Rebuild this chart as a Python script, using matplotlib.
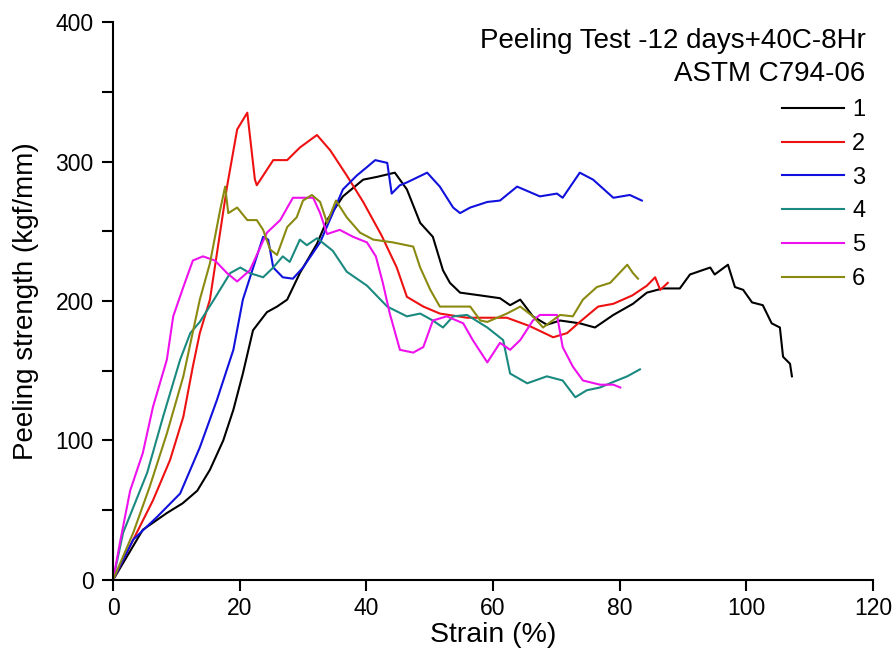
import matplotlib.pyplot as plt
from matplotlib.ticker import MultipleLocator

plt.rcParams['font.family'] = ['Liberation Sans', 'DejaVu Sans']

# strain (%) / peeling strength (kgf/mm) for each specimen
x1 = [0, 4.7, 8.5, 11, 13.3, 15.3, 17.4, 19, 20.5, 22.1, 24.3, 25.9, 27.5, 29.5, 32.2, 33.8,
      36.3, 39.5, 41.7, 44.5, 46.4, 48.5, 50.5, 52.1, 53.2, 54.8, 58, 61.1, 62.7, 64.3, 66.3,
      68.5, 70.6, 73.7, 76.1, 79, 82.1, 84.3, 86.8, 89.5, 91.1, 94.3, 95, 97.1, 98.2, 99.5,
      100.9, 102.6, 104, 105.3, 105.8, 106.9, 107.2]
y1 = [0, 36, 48, 55, 64, 79, 100, 122, 148, 179, 192, 196, 201, 220, 241, 258,
      275, 287, 289, 292, 280, 256, 246, 222, 213, 206, 204, 202, 197, 201, 189,
      183, 186, 184, 181, 190, 198, 206, 209, 209, 219, 224, 219, 226, 210, 208,
      199, 197, 184, 181, 160, 155, 146]

x2 = [0, 3.2, 6.3, 9, 11.1, 12.6, 13.7, 15.3, 18, 19.6, 21.2, 22.4, 22.7, 25.3, 27.5, 29.5,
      32.2, 34.3, 36.9, 39.5, 42.4, 44.8, 46.4, 49, 51.6, 55.9, 62.2, 65.8, 69.5, 71.7, 73.7,
      76.6, 79, 82, 84.3, 85.6, 86.4, 87.6]
y2 = [0, 29, 57, 86, 117, 153, 177, 201, 282, 323, 335, 287, 283, 301, 301, 310,
      319, 308, 290, 271, 247, 224, 203, 196, 191, 188, 188, 182, 174, 177, 185,
      196, 198, 204, 211, 217, 208, 213]

x3 = [0, 3.2, 6.9, 10.6, 13.7, 16.4, 19, 20.5, 23.7, 24.5, 25.3, 26.8, 28.4, 30, 32.7, 34.7,
      36.3, 38.5, 40.1, 41.4, 43.3, 44, 45.3, 46.4, 49.6, 51.6, 53.7, 54.8, 56.4, 59.1, 61.1,
      63.8, 67.4, 70.1, 71, 73.7, 75.8, 79, 81.6, 83.5]
y3 = [0, 29, 45, 62, 95, 129, 165, 201, 246, 244, 224, 217, 216, 224, 242, 263,
      280, 290, 296, 301, 299, 277, 283, 285, 292, 282, 267, 263, 267, 271, 272,
      282, 275, 277, 274, 292, 287, 274, 276, 272]

x4 = [0, 1.6, 5.4, 7.9, 10.6, 12.2, 13.7, 15.8, 18.5, 20.1, 21.6, 23.7, 25.3, 26.8, 27.9, 29.5,
      30.6, 32.2, 34.7, 36.9, 40.1, 43.3, 46.4, 48.5, 50.5, 52.1, 53.7, 55.9, 59.1, 61.6, 62.7,
      65.4, 68.5, 71, 73, 74.8, 76.9, 79, 81.2, 83.2]
y4 = [0, 34, 77, 117, 158, 177, 185, 200, 220, 224, 220, 217, 224, 232, 228, 244,
      240, 245, 236, 221, 211, 196, 189, 191, 186, 181, 189, 190, 181, 172, 148,
      141, 146, 143, 131, 136, 138, 142, 146, 151]

x5 = [0, 1.1, 2.7, 4.7, 6.3, 8.5, 9.5, 11.1, 12.6, 14.2, 16.1, 18, 19.6, 21.6, 24.3, 26.4,
      28.4, 31.6, 32.7, 33.8, 35.8, 37.9, 40.1, 41.5, 42.6, 43.7, 45.3, 47.4, 49, 50.5, 52.7,
      55.3, 56.8, 59.1, 61.1, 62.7, 64.3, 66.3, 67.4, 70.1, 71, 72.6, 74.2, 76.9, 79, 80.1]
y5 = [0, 27, 64, 91, 124, 158, 189, 210, 229, 232, 229, 220, 214, 222, 249, 258,
      274, 274, 263, 248, 251, 246, 242, 232, 213, 191, 165, 163, 167, 186, 189,
      184, 172, 156, 170, 165, 172, 186, 190, 190, 167, 153, 143, 140, 140, 138]

x6 = [0, 3.2, 5.8, 8.5, 11.1, 13.7, 15.3, 16.9, 17.7, 18.2, 19.6, 21.2, 22.7, 23.7, 24.8, 25.9,
      27.5, 29, 30, 31.4, 32.7, 33.8, 35.2, 36.9, 39, 41.1, 44.2, 47.4, 48.5, 50.1, 51.6,
      54.3, 56.4, 58, 59.1, 62.2, 64.3, 66.3, 67.9, 70.6, 72.6, 74.2, 76.4, 78.5, 81.2, 82.1,
      82.9]
y6 = [0, 34, 67, 105, 146, 201, 227, 265, 282, 263, 267, 258, 258, 251, 237, 233,
      253, 260, 272, 276, 271, 256, 272, 260, 249, 244, 242, 239, 224, 208, 196,
      196, 196, 186, 185, 191, 196, 189, 181, 190, 189, 201, 210, 213, 226, 220,
      216]

series = [(x1, y1, 'black', '1'), (x2, y2, '#ee1111', '2'), (x3, y3, '#1111dd', '3'),
          (x4, y4, '#1a8a80', '4'), (x5, y5, '#ee11ee', '5'), (x6, y6, '#8a8a10', '6')]

fig = plt.figure(figsize=(8.95, 6.59), dpi=100)
ax = fig.add_axes([0.1263, 0.1199, 0.8491, 0.8467])

for xs, ys, c, lab in series:
    ax.plot(xs, ys, color=c, lw=1.5, label=lab)

ax.set_xlim(0, 120)
ax.set_ylim(0, 400)
ax.xaxis.set_major_locator(MultipleLocator(20))
ax.yaxis.set_major_locator(MultipleLocator(100))
ax.yaxis.set_minor_locator(MultipleLocator(50))
ax.spines['top'].set_visible(False)
ax.spines['right'].set_visible(False)
for s in ('left', 'bottom'):
    ax.spines[s].set_linewidth(1.5)
ax.tick_params(which='both', direction='out', length=8, width=1.5, labelsize=16.5)
ax.tick_params(axis='x', pad=4)
ax.tick_params(axis='y', pad=6)

ax.set_xlabel('Strain (%)', fontsize=20.5)
ax.set_ylabel('Peeling strength (kgf/mm)', fontsize=20)
ax.xaxis.set_label_coords(0.5, -0.075)
ax.yaxis.set_label_coords(-0.097, 0.5)

ax.text(0.99, 0.953, 'Peeling Test -12 days+40C-8Hr', transform=ax.transAxes,
        ha='right', va='baseline', fontsize=20)
ax.text(0.99, 0.894, 'ASTM C794-06', transform=ax.transAxes,
        ha='right', va='baseline', fontsize=20)

ax.legend(loc='upper right', bbox_to_anchor=(0.99, 0.862), frameon=False, fontsize=17,
          borderpad=0, borderaxespad=0, handlelength=2.62, handletextpad=0.35,
          labelspacing=0.5)

fig.savefig('out.png', dpi=100)
